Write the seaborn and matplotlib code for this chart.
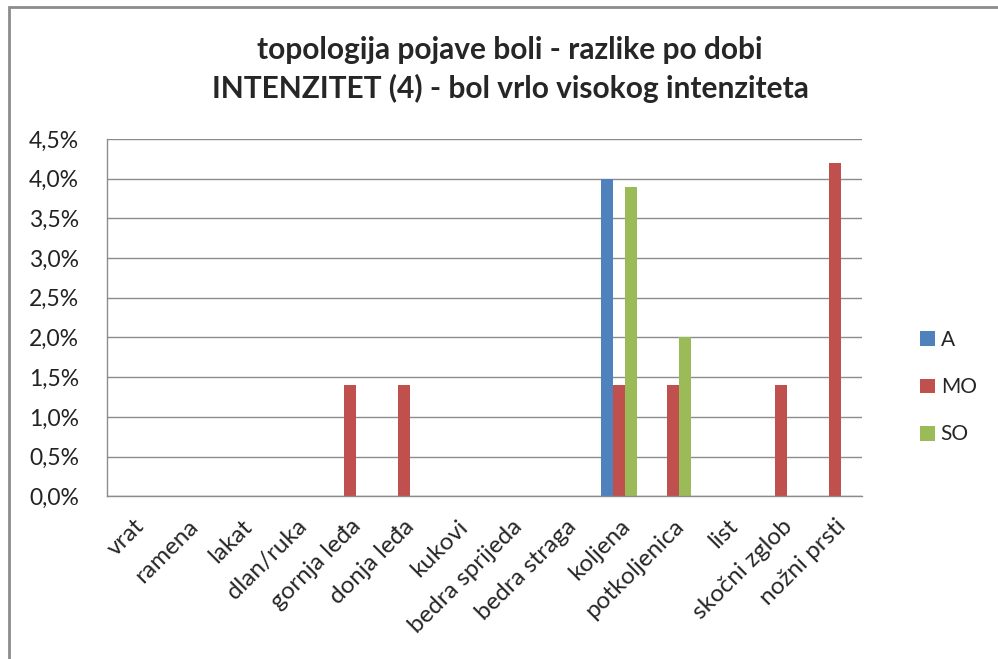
import pandas as pd
import seaborn as sns
import matplotlib.pyplot as plt
from matplotlib.ticker import FuncFormatter
from matplotlib.patches import Rectangle

categories = ['vrat', 'ramena', 'lakat', 'dlan/ruka', 'gornja leđa', 'donja leđa',
              'kukovi', 'bedra sprijeda', 'bedra straga', 'koljena', 'potkoljenica',
              'list', 'skočni zglob', 'nožni prsti']
series_names = ['A', 'MO', 'SO']
vals_A = [0, 0, 0, 0, 0, 0, 0, 0, 0, 4.0, 0, 0, 0, 0]
vals_MO = [0, 0, 0, 0, 1.4, 1.4, 0, 0, 0, 1.4, 1.4, 0, 1.4, 4.2]
vals_SO = [0, 0, 0, 0, 0, 0, 0, 0, 0, 3.9, 2.0, 0, 0, 0]
colors = ['#4F81BD', '#C0504D', '#9BBB59']
title = 'topologija pojave boli - razlike po dobi\nINTENZITET (4) - bol vrlo visokog intenziteta'

df = pd.DataFrame({'kategorija': categories, 'A': vals_A, 'MO': vals_MO, 'SO': vals_SO})
df_long = df.melt(id_vars='kategorija', var_name='grupa', value_name='postotak')

sns.set_style('white')
plt.rcParams['font.family'] = ['Lato', 'DejaVu Sans']

fig = plt.figure(figsize=(9.98, 6.59), dpi=100)
ax = fig.add_axes([0.107, 0.247, 0.757, 0.542])

sns.barplot(data=df_long, x='kategorija', y='postotak', hue='grupa',
            palette=colors, width=0.667, ax=ax, saturation=1, linewidth=0,
            legend=True)

ax.set_ylim(0, 4.5)
ax.set_yticks([i * 0.5 for i in range(10)])
ax.yaxis.set_major_formatter(FuncFormatter(lambda v, p: f'{v:.1f}%'.replace('.', ',')))
ax.set_xlim(-0.5, len(categories) - 0.5)
ax.set_xlabel('')
ax.set_ylabel('')
ax.grid(axis='y', color='#8C8C8C', linewidth=1)
ax.set_axisbelow(True)
for s in ['top', 'right']:
    ax.spines[s].set_visible(False)
for s in ['left', 'bottom']:
    ax.spines[s].set_color('#8C8C8C')
    ax.spines[s].set_linewidth(1)
ax.tick_params(axis='y', length=5, color='#8C8C8C', labelsize=16.5, labelcolor='#222222', pad=15)
ax.tick_params(axis='x', length=0, labelsize=17.5, pad=14)
plt.setp(ax.get_xticklabels(), rotation=45, ha='right', rotation_mode='anchor')

fig.suptitle(title, x=0.511, y=0.945, fontsize=21.5, fontweight='bold', linespacing=1.4)

ax.legend(loc='center left', bbox_to_anchor=(1.077, 0.305), frameon=False,
          fontsize=15, handlelength=0.72, handleheight=0.72, labelspacing=1.3,
          handletextpad=0.25, borderpad=0, borderaxespad=0)

fig.patches.append(Rectangle((0.009, -0.01), 1.5, 0.999, transform=fig.transFigure,
                             fill=False, edgecolor='#8C8C8C', linewidth=2))

fig.savefig('out.png', dpi=100, facecolor='white')
